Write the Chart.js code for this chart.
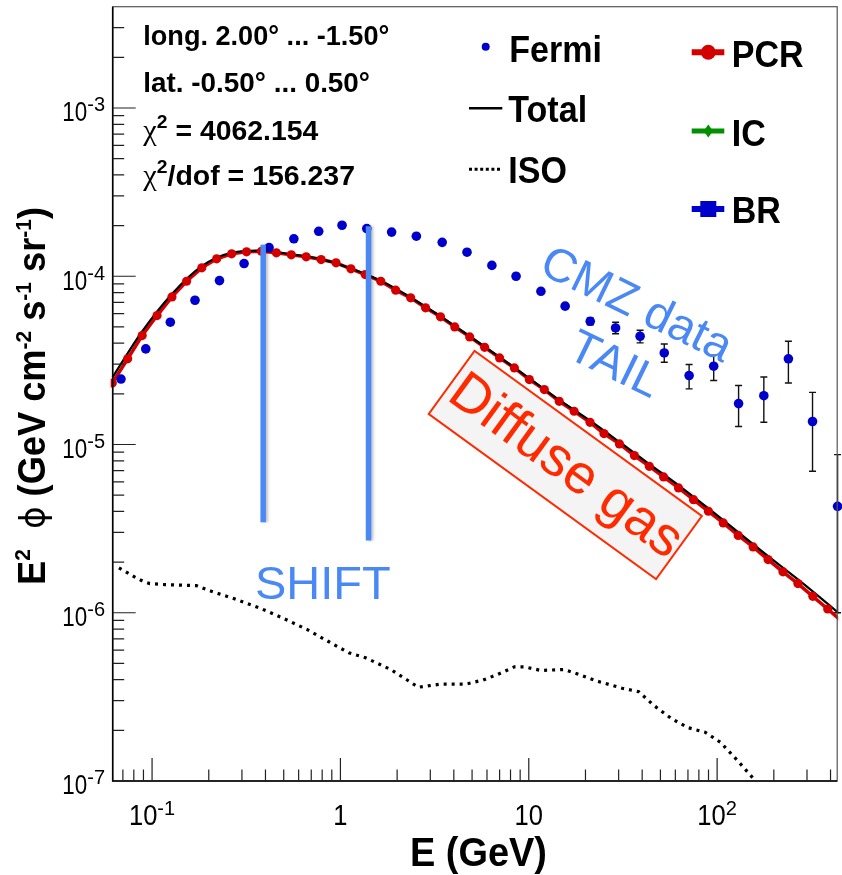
<!DOCTYPE html>
<html>
<head>
<meta charset="utf-8">
<script src="https://cdn.jsdelivr.net/npm/chart.js@4.4.1/dist/chart.umd.min.js"></script>
<style>
  html, body { margin: 0; background: #fff; }
  #wrap { width: 842px; height: 875px; }
</style>
</head>
<body>
<div id="wrap"><canvas id="spectrum"></canvas></div>
<script>
// Fermi-LAT points (GeV, GeV cm^-2 s^-1 sr^-1), error bounds where visible
const fermiE = [0.0684, 0.0926, 0.125, 0.169, 0.228, 0.308, 0.418, 0.566, 0.767, 1.02, 1.38, 1.87, 2.53, 3.47, 4.70, 6.37, 8.56, 11.6, 15.6, 21.2, 28.9, 39.0, 52.4, 71.0, 95.9, 130, 177, 239, 321, 436];
const fermiFlux = [2.45e-5, 3.70e-5, 5.33e-5, 7.20e-5, 9.42e-5, 1.19e-4, 1.48e-4, 1.67e-4, 1.85e-4, 2.01e-4, 1.92e-4, 1.83e-4, 1.73e-4, 1.59e-4, 1.39e-4, 1.16e-4, 1.00e-4, 8.14e-5, 6.64e-5, 5.40e-5, 4.93e-5, 4.40e-5, 3.50e-5, 2.57e-5, 2.92e-5, 1.75e-5, 1.95e-5, 3.23e-5, 1.37e-5, 4.29e-6];
const fermiHi = [null, null, null, null, null, null, null, null, null, null, null, null, null, null, null, null, null, null, null, 5.65e-5, 5.33e-5, 4.78e-5, 3.96e-5, 2.99e-5, 3.39e-5, 2.24e-5, 2.52e-5, 4.11e-5, 2.04e-5, 8.7e-6];
const fermiLo = [null, null, null, null, null, null, null, null, null, null, null, null, null, null, null, null, null, null, null, 5.15e-5, 4.55e-5, 4.02e-5, 3.08e-5, 2.14e-5, 2.40e-5, 1.28e-5, 1.355e-5, 2.32e-5, 6.93e-6, 1.0e-6];

// pion-decay (PCR) model
const pcrE = [0.0615, 0.0742, 0.0886, 0.1063, 0.1275, 0.1525, 0.1837, 0.2204, 0.2645, 0.3174, 0.3809, 0.4571, 0.5485, 0.6582, 0.790, 0.948, 1.137, 1.355, 1.638, 1.966, 2.360, 2.831, 3.398, 4.047, 4.858, 5.83, 7.00, 8.39, 10.07, 12.09, 14.51, 17.41, 21.14, 25.07, 30.30, 36.37, 43.64, 51.98, 62.4, 74.9, 89.9, 107.8, 129.4, 155.3, 186.4, 223.6, 268.4, 322.1, 386.5, 463.8];
const pcrFlux = [2.32e-5, 3.23e-5, 4.44e-5, 5.84e-5, 7.54e-5, 9.34e-5, 1.122e-4, 1.269e-4, 1.359e-4, 1.397e-4, 1.408e-4, 1.377e-4, 1.340e-4, 1.304e-4, 1.257e-4, 1.201e-4, 1.107e-4, 1.023e-4, 9.34e-5, 8.26e-5, 7.44e-5, 6.49e-5, 5.74e-5, 5.00e-5, 4.36e-5, 3.78e-5, 3.27e-5, 2.85e-5, 2.43e-5, 2.12e-5, 1.806e-5, 1.576e-5, 1.355e-5, 1.161e-5, 1.008e-5, 8.59e-6, 7.42e-6, 6.42e-6, 5.52e-6, 4.70e-6, 4.01e-6, 3.42e-6, 2.88e-6, 2.46e-6, 2.07e-6, 1.75e-6, 1.49e-6, 1.252e-6, 1.053e-6, 8.8e-7];

// total model
const totalE = [0.0615, 0.0886, 0.1275, 0.1837, 0.2645, 0.3809, 0.5485, 0.790, 1.137, 1.638, 2.360, 3.398, 4.858, 7.00, 10.07, 14.51, 21.14, 30.30, 43.64, 62.4, 89.9, 129.4, 186.4, 268.4, 386.5, 463.8];
const totalFlux = [2.50e-5, 4.70e-5, 7.85e-5, 1.15e-4, 1.38e-4, 1.42e-4, 1.35e-4, 1.265e-4, 1.113e-4, 9.39e-5, 7.48e-5, 5.78e-5, 4.40e-5, 3.31e-5, 2.47e-5, 1.84e-5, 1.385e-5, 1.035e-5, 7.65e-6, 5.72e-6, 4.17e-6, 3.01e-6, 2.17e-6, 1.58e-6, 1.13e-6, 9.5e-7];

// isotropic background
const isoE = [0.0667, 0.0734, 0.0811, 0.0893, 0.0973, 0.1167, 0.172, 0.2065, 0.2735, 0.371, 0.490, 0.664, 0.900, 1.107, 1.36, 1.85, 2.24, 2.59, 3.44, 4.66, 5.71, 6.84, 8.39, 9.48, 11.6, 15.4, 18.9, 23.1, 31.3, 38.4, 46.0, 57.5, 70.5, 86.3, 104, 127, 160];
const isoFlux = [1.85e-6, 1.74e-6, 1.63e-6, 1.54e-6, 1.49e-6, 1.47e-6, 1.45e-6, 1.34e-6, 1.21e-6, 1.07e-6, 9.34e-7, 7.96e-7, 6.57e-7, 5.78e-7, 5.40e-7, 4.60e-7, 4.01e-7, 3.61e-7, 3.77e-7, 3.77e-7, 3.98e-7, 4.30e-7, 4.77e-7, 4.77e-7, 4.54e-7, 4.60e-7, 4.26e-7, 3.92e-7, 3.56e-7, 3.39e-7, 2.82e-7, 2.34e-7, 2.07e-7, 1.95e-7, 1.70e-7, 1.34e-7, 1.0e-7];

// axis ticks: [value, base, exponent]
const xTicks = [[0.1, "10", "-1"], [1, "1", ""], [10, "10", ""], [100, "10", "2"]];
const yTicks = [[1e-7, "10", "-7"], [1e-6, "10", "-6"], [1e-5, "10", "-5"], [1e-4, "10", "-4"], [1e-3, "10", "-3"]];

// "SHIFT" markers: energy, top and bottom flux
const shiftE = [0.389, 1.41];
const shiftTop = [1.54e-4, 1.98e-4];
const shiftBottom = [3.45e-6, 2.69e-6];

const pts = (xs, ys) => xs.map((x, i) => ({ x, y: ys[i] }));

const SANS = '"Liberation Sans", Arial, Helvetica, sans-serif';
const RED = "#d40000";
const BLUE = "#0000cc";
const NOTE_BLUE = "#4a88f5";
const NOTE_RED = "#ff2a00";

// draws a run of text pieces (for superscripts), optionally squeezed to a width;
// a piece may carry its own horizontal squeeze in p.sx
function rich(ctx, parts, x, y, o = {}) {
  ctx.save();
  const fontOf = (p) => `${p.bold === false ? "" : "bold "}${p.size}px ${p.family || SANS}`;
  const widths = parts.map((p) => {
    ctx.font = fontOf(p);
    return ctx.measureText(p.t).width * (p.sx || 1);
  });
  const w = widths.reduce((a, b) => a + b, 0);
  const sx = o.width ? o.width / w : o.sx || 1;
  ctx.translate(x, y);
  if (o.angle) ctx.rotate(o.angle);
  ctx.scale(sx, 1);
  let cx = o.align === "center" ? -w / 2 : o.align === "right" ? -w : 0;
  ctx.fillStyle = o.color || "#000";
  ctx.textBaseline = o.baseline || "alphabetic";
  parts.forEach((p, i) => {
    ctx.font = fontOf(p);
    ctx.save();
    ctx.translate(cx, p.dy || 0);
    ctx.scale(p.sx || 1, 1);
    ctx.fillText(p.t, 0, 0);
    ctx.restore();
    cx += widths[i];
  });
  ctx.restore();
}

const errorBars = {
  id: "errorBars",
  beforeDatasetsDraw(chart) {
    const { ctx, scales: { x, y } } = chart;
    ctx.save();
    ctx.strokeStyle = "#111";
    ctx.lineWidth = 1.4;
    fermiE.forEach((e, i) => {
      if (fermiHi[i] == null) return;
      const px = x.getPixelForValue(e);
      const top = y.getPixelForValue(fermiHi[i]);
      const bot = Math.min(y.getPixelForValue(fermiLo[i]), chart.chartArea.bottom);
      ctx.beginPath();
      ctx.moveTo(px, top); ctx.lineTo(px, bot);
      ctx.moveTo(px - 3.5, top); ctx.lineTo(px + 3.5, top);
      ctx.moveTo(px - 3.5, bot); ctx.lineTo(px + 3.5, bot);
      ctx.stroke();
    });
    ctx.restore();
  },
};

const rootAxes = {
  id: "rootAxes",
  afterDatasetsDraw(chart) {
    const { ctx, chartArea: a, scales: { x, y } } = chart;
    ctx.save();
    ctx.strokeStyle = "#555";
    ctx.lineWidth = 1.2;
    ctx.strokeRect(a.left, a.top, a.right - a.left, a.bottom - a.top);
    ctx.strokeStyle = "#000";
    ctx.lineWidth = 1.6;
    ctx.beginPath();
    ctx.moveTo(a.left, a.top); ctx.lineTo(a.left, a.bottom); ctx.lineTo(a.right, a.bottom);
    ctx.stroke();

    ctx.strokeStyle = "#222";
    ctx.lineWidth = 1.2;
    ctx.beginPath();
    for (let d = -2; d <= 3; d++) {
      for (let k = 1; k <= 9; k++) {
        const v = k * Math.pow(10, d);
        if (v < x.min || v > x.max) continue;
        const px = x.getPixelForValue(v);
        ctx.moveTo(px, a.bottom);
        ctx.lineTo(px, a.bottom - (k === 1 ? 23 : 11.5));
      }
    }
    for (let d = -7; d <= -3; d++) {
      for (let k = 1; k <= 9; k++) {
        const v = k * Math.pow(10, d);
        if (v < y.min || v >= y.max) continue;
        const py = y.getPixelForValue(v);
        ctx.moveTo(a.left, py);
        ctx.lineTo(a.left + (k === 1 ? 23 : 11.5), py);
      }
    }
    ctx.stroke();
    ctx.restore();

    xTicks.forEach(([v, base, exp]) => {
      const parts = [{ t: base, size: 29, bold: false, sx: 0.88 }];
      if (exp) parts.push({ t: exp, size: 20, bold: false, dy: -10 });
      rich(ctx, parts, x.getPixelForValue(v), 825, { align: "center" });
    });
    yTicks.forEach(([v, base, exp]) => {
      rich(ctx, [{ t: base, size: 28, bold: false, sx: 0.8 }, { t: exp, size: 20, bold: false, dy: -10 }],
        105, y.getPixelForValue(v) + 13.4, { align: "right" });
    });

    rich(ctx, [{ t: "E (GeV)", size: 40 }], 410, 866, { width: 137 });
    rich(ctx, [
      { t: "E", size: 38 }, { t: "2", size: 22, dy: -15 }, { t: "  ", size: 38 },
      { t: "\u03d5", size: 36, bold: false, family: '"DejaVu Sans", sans-serif' },
      { t: " (GeV cm", size: 38 }, { t: "-2", size: 22, dy: -14 },
      { t: " s", size: 38 }, { t: "-1", size: 22, dy: -14 },
      { t: " sr", size: 38 }, { t: "-1", size: 22, dy: -14 }, { t: ")", size: 38 },
    ], 45, 585, { angle: -Math.PI / 2, width: 378 });
  },
};

const notes = {
  id: "notes",
  afterDraw(chart) {
    const { ctx, scales: { x, y } } = chart;

    // fit summary
    const chi = { t: "\u03c7", size: 30, bold: false, family: '"Liberation Serif", "DejaVu Serif", serif' };
    rich(ctx, [{ t: "long. 2.00\u00b0 ... -1.50\u00b0", size: 28 }], 143.3, 45, { width: 246 });
    rich(ctx, [{ t: "lat. -0.50\u00b0 ... 0.50\u00b0", size: 28 }], 143.3, 91.7, { width: 226.7 });
    rich(ctx, [chi, { t: "2", size: 19, dy: -12 }, { t: " = 4062.154", size: 28 }], 143.3, 140, { width: 175 });
    rich(ctx, [chi, { t: "2", size: 19, dy: -12 }, { t: "/dof = 156.237", size: 28 }], 143.3, 185, { width: 211.7 });

    // legend
    ctx.save();
    ctx.fillStyle = BLUE;
    ctx.beginPath(); ctx.arc(485.7, 46.7, 4, 0, Math.PI * 2); ctx.fill();
    ctx.strokeStyle = "#000";
    ctx.lineWidth = 2.5;
    ctx.beginPath(); ctx.moveTo(469, 108.3); ctx.lineTo(502.3, 108.3); ctx.stroke();
    ctx.lineWidth = 3;
    ctx.setLineDash([3, 2.6]);
    ctx.beginPath(); ctx.moveTo(469, 169.3); ctx.lineTo(502.3, 169.3); ctx.stroke();
    ctx.setLineDash([]);

    ctx.lineWidth = 6;
    ctx.strokeStyle = RED; ctx.fillStyle = RED;
    ctx.beginPath(); ctx.moveTo(691.7, 52.3); ctx.lineTo(724.3, 52.3); ctx.stroke();
    ctx.beginPath(); ctx.arc(708.3, 52.3, 7.5, 0, Math.PI * 2); ctx.fill();

    ctx.strokeStyle = "#009000"; ctx.fillStyle = "#009000";
    ctx.lineWidth = 5;
    ctx.beginPath(); ctx.moveTo(691.7, 131); ctx.lineTo(724.3, 131); ctx.stroke();
    ctx.beginPath();
    ctx.moveTo(708.3, 124.5); ctx.lineTo(713, 131); ctx.lineTo(708.3, 137.5); ctx.lineTo(703.6, 131);
    ctx.closePath(); ctx.fill();

    ctx.strokeStyle = BLUE; ctx.fillStyle = BLUE;
    ctx.lineWidth = 6;
    ctx.beginPath(); ctx.moveTo(691.7, 209); ctx.lineTo(724.3, 209); ctx.stroke();
    ctx.fillRect(700.3, 201, 16, 16);
    ctx.restore();

    rich(ctx, [{ t: "Fermi", size: 37 }], 509.3, 61.7, { sx: 0.92 });
    rich(ctx, [{ t: "Total", size: 37 }], 508.3, 121.7, { sx: 0.92 });
    rich(ctx, [{ t: "ISO", size: 37 }], 508.3, 182.7, { sx: 0.92 });
    rich(ctx, [{ t: "PCR", size: 37 }], 731.7, 66.7, { sx: 0.92 });
    rich(ctx, [{ t: "IC", size: 37 }], 731.7, 145.7, { sx: 0.92 });
    rich(ctx, [{ t: "BR", size: 37 }], 731.7, 222.7, { sx: 0.92 });

    // shift markers
    ctx.save();
    ctx.strokeStyle = NOTE_BLUE;
    ctx.lineWidth = 5.5;
    ctx.shadowColor = "rgba(0,0,0,0.25)";
    ctx.shadowBlur = 3;
    ctx.shadowOffsetX = 2;
    shiftE.forEach((e, i) => {
      const px = x.getPixelForValue(e);
      ctx.beginPath();
      ctx.moveTo(px, y.getPixelForValue(shiftTop[i]));
      ctx.lineTo(px, y.getPixelForValue(shiftBottom[i]));
      ctx.stroke();
    });
    ctx.restore();
    rich(ctx, [{ t: "SHIFT", size: 47, bold: false }], 255, 599, { width: 135.7, color: NOTE_BLUE });

    // CMZ tail note
    const tilt = (26 * Math.PI) / 180;
    rich(ctx, [{ t: "CMZ data", size: 47, bold: false }], 636, 306,
      { align: "center", baseline: "middle", angle: tilt, color: NOTE_BLUE });
    rich(ctx, [{ t: "TAIL", size: 47, bold: false }], 614, 366,
      { align: "center", baseline: "middle", angle: tilt, color: NOTE_BLUE });

    // diffuse gas box
    ctx.save();
    ctx.translate(565.3, 465);
    ctx.rotate((36 * Math.PI) / 180);
    ctx.fillStyle = "#f4f4f4";
    ctx.fillRect(-140.5, -39, 281, 78);
    ctx.strokeStyle = NOTE_RED;
    ctx.lineWidth = 2;
    ctx.strokeRect(-140.5, -39, 281, 78);
    ctx.restore();
    rich(ctx, [{ t: "Diffuse gas", size: 55, bold: false }], 565.3, 467,
      { align: "center", baseline: "middle", angle: (36 * Math.PI) / 180, color: NOTE_RED });
  },
};

new Chart(document.getElementById("spectrum"), {
  type: "scatter",
  data: {
    datasets: [
      {
        label: "Fermi",
        data: pts(fermiE, fermiFlux),
        showLine: false,
        pointRadius: 4.8,
        pointBackgroundColor: BLUE,
        pointBorderWidth: 0,
        clip: false,
        order: 0,
      },
      {
        label: "PCR markers",
        data: pts(pcrE, pcrFlux),
        showLine: false,
        pointRadius: 4.6,
        pointBackgroundColor: RED,
        pointBorderWidth: 0,
        clip: 2,
        order: 1,
      },
      {
        label: "Total",
        data: pts(totalE, totalFlux),
        showLine: true,
        borderColor: "#000",
        borderWidth: 2.2,
        pointRadius: 0,
        cubicInterpolationMode: "monotone",
        clip: 1,
        order: 2,
      },
      {
        label: "PCR",
        data: pts(pcrE, pcrFlux),
        showLine: true,
        borderColor: RED,
        borderWidth: 3.5,
        pointRadius: 0,
        clip: 1,
        order: 3,
      },
      {
        label: "ISO",
        data: pts(isoE, isoFlux),
        showLine: true,
        borderColor: "#000",
        borderWidth: 3.2,
        borderDash: [3, 5],
        pointRadius: 0,
        clip: 0,
        order: 4,
      },
    ],
  },
  options: {
    animation: false,
    responsive: true,
    maintainAspectRatio: false,
    layout: { padding: { left: 112.7, top: 6.7, right: 1.3, bottom: 94 } },
    plugins: { legend: { display: false }, tooltip: { enabled: false } },
    scales: {
      x: { type: "logarithmic", min: 0.0618, max: 434, display: false },
      y: { type: "logarithmic", min: 1e-7, max: 4e-3, display: false },
    },
  },
  plugins: [errorBars, rootAxes, notes],
});
</script>
</body>
</html>
